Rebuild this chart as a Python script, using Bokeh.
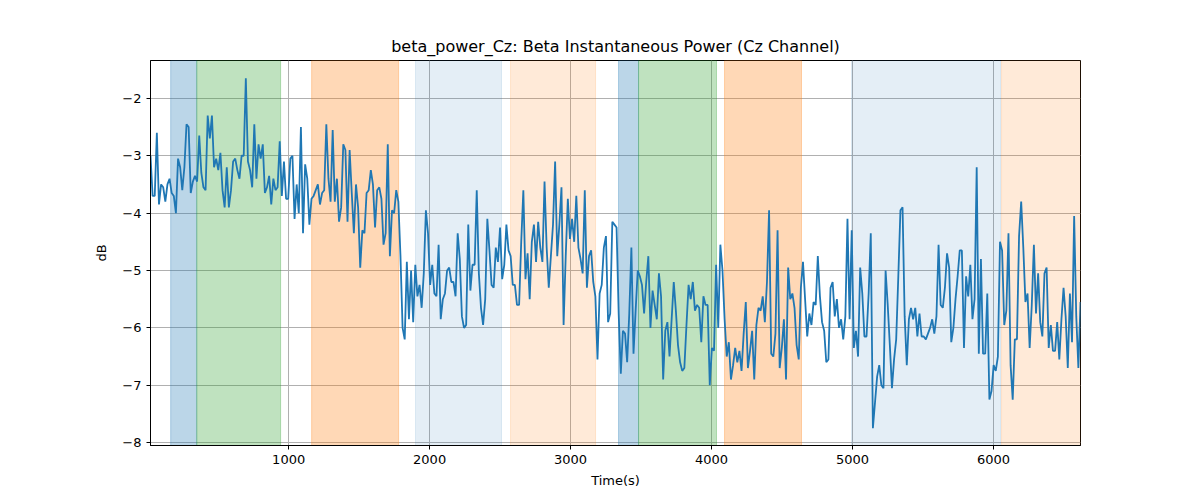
import numpy as np
from bokeh.plotting import figure
from bokeh.models import BoxAnnotation, FixedTicker, Range1d
from bokeh.embed import file_html
from bokeh.resources import INLINE

seg1 = [-3.0,-3.7,-3.7,-2.6,-3.85,-3.5,-3.55,-3.8,-3.5,-3.4,-3.65,-3.7,-4.0,-3.05,-3.2,-3.6,-3.2,-2.45,-2.5,-3.65,
        -3.45,-3.35,-3.45,-2.65,-3.3,-3.55,-3.6,-2.3,-2.7,-2.3,-3.2,-3.05,-3.25,-2.95,-3.6,-3.9,-3.2,-3.9,-3.6,-3.1,
        -3.05,-3.25,-3.4,-3.0,-3.0,-1.65,-3.1,-3.25,-3.55,-2.45,-3.4,-2.8,-3.05,-2.8,-3.65,-3.55,-3.35,-3.85,-3.4,-3.6,
        -3.55,-2.75,-3.7,-3.1,-3.75,-3.75,-3.05,-3.0,-4.1,-3.5,-4.0,-2.5,-4.35,-3.15,-3.4]
seg2 = [-4.2,-3.75,-3.7,-3.6,-3.5,-3.85,-3.65,-3.6,-2.45,-3.4,-3.8,-2.55,-3.8,-3.4,-4.15,-3.9,-2.8,-2.9,-4.15,-2.9,
        -3.65,-4.35,-3.5,-3.9,-4.95,-4.3,-4.35,-3.65,-3.6,-3.25,-3.5,-4.25,-3.6,-3.55,-3.75,-4.55,-4.35,-2.8,-4.75,-3.95,
        -4.0,-3.6,-3.8,-4.75,-6.0,-6.2,-4.85,-5.85,-5.0,-5.9,-4.9,-5.45,-5.25,-5.65,-5.05,-3.95,-4.35,-5.25,-4.9,-5.4,
        -5.45,-4.55,-5.85,-5.5,-5.4,-5.0,-4.95,-5.2,-5.2,-5.45,-4.35,-4.8]
seg3 = [-5.8,-6.0,-5.95,-4.2,-5.35,-4.9,-4.9,-3.6,-5.05,-5.65,-5.95,-5.5,-4.1,-4.65,-5.25,-5.3,-4.6,-4.85,-4.25,-5.15,
        -4.9,-4.2,-4.65,-4.75,-5.25,-5.25,-5.6,-5.6,-4.5,-3.6,-5.15,-4.7,-5.5,-4.5,-4.2,-4.85,-4.15,-4.6,-4.85,-3.45,
        -4.6,-5.3,-4.75,-4.2,-3.1,-4.75,-4.2,-3.55,-5.95,-4.75,-3.75,-4.45,-4.1,-4.5,-3.7,-4.6,-4.8,-5.05,-3.6,-5.3,
        -4.75,-4.65,-5.2,-5.45,-6.55,-5.4,-5.25,-4.6,-4.4,-5.9,-5.75,-4.15,-4.2]
seg4 = [-4.25,-5.75,-6.8,-6.05,-6.1,-6.6,-5.75,-4.6,-6.45,-5.7,-5.0,-5.1,-5.25,-5.75,-5.2,-4.75,-6.0,-5.35,-5.6,-5.85,
        -5.05,-5.45,-6.9,-6.05,-5.9,-6.5,-5.85,-5.2,-5.7,-6.3,-6.6,-6.75,-6.7,-5.95,-5.25,-5.5,-5.2,-5.7,-5.6,-5.65,
        -6.25,-5.45,-5.6,-5.6,-7.0,-6.35,-6.4,-4.9,-6.0,-4.55,-5.0,-5.85,-6.5,-6.25,-6.9,-6.65,-6.35,-6.6,-6.4,-6.75,
        -6.1,-5.55,-6.7,-6.4,-6.05,-6.9,-5.95,-5.65,-5.7,-5.45,-5.9,-5.2,-3.95]
seg5 = [-6.45,-6.5,-6.1,-4.3,-6.7,-6.35,-5.85,-6.9,-4.95,-5.5,-5.4,-5.65,-6.3,-6.55,-5.3,-4.85,-5.5,-6.15,-5.75,-5.95,
        -5.55,-5.6,-4.75,-5.45,-5.9,-6.05,-6.6,-6.55,-5.3,-5.2,-5.8,-5.5,-6.0,-5.85,-6.2,-5.8,-4.1,-5.85,-4.3,-6.35,
        -6.05,-6.5,-4.95,-5.4,-6.15,-6.15,-5.4,-4.35,-7.75,-7.3,-6.85,-6.65,-7.0,-7.05,-5.0,-5.6,-6.3,-7.05,-6.55,-6.2,
        -5.1,-3.95,-3.9,-5.8,-6.65,-5.85,-5.65,-5.85,-5.65,-6.15,-5.75,-6.15,-6.15]
seg6 = [-6.2,-6.1,-6.0,-5.85,-6.1,-5.8,-4.55,-5.6,-5.65,-5.3,-4.7,-4.95,-6.25,-6.0,-5.5,-5.1,-4.65,-4.65,-6.35,-5.1,
        -5.45,-4.9,-5.85,-5.5,-3.2,-6.45,-4.8,-6.45,-6.45,-5.4,-7.25,-7.1,-6.65,-6.75,-6.5,-4.5,-4.65,-5.95,-5.7,-4.35,
        -6.65,-7.25,-6.2,-6.2,-4.4,-3.8,-4.6,-5.55,-5.4,-6.35,-5.6,-4.55,-5.75,-5.05,-5.9,-6.15,-5.05,-4.95,-6.35,-5.95,
        -6.4,-6.4,-5.9,-6.55,-5.85,-5.3,-5.8,-6.7,-5.4,-6.25,-4.05,-5.8,-6.7,-5.55]
power_db = seg1 + seg2 + seg3 + seg4 + seg5 + seg6
t_start = 20.0
t_end = 6617.0
times = np.linspace(t_start, t_end, len(power_db))

span_left = [163, 348, 1163, 1900, 2574, 3340, 3482, 4092, 4993, 6057]
span_right = [348, 943, 1780, 2510, 3177, 3482, 4035, 4638, 6050, 6617]
span_color = ["#1f77b4", "#2ca02c", "#ff7f0e", "#1f77b4", "#ff7f0e",
              "#1f77b4", "#2ca02c", "#ff7f0e", "#1f77b4", "#ff7f0e"]
span_alpha = [0.3, 0.3, 0.3, 0.12, 0.16, 0.3, 0.3, 0.3, 0.12, 0.16]

x_ticks = [1000, 2000, 3000, 4000, 5000, 6000]
y_ticks = [-8, -7, -6, -5, -4, -3, -2]

p = figure(width=1184, height=490, output_backend="svg", toolbar_location=None,
           title="beta_power_Cz: Beta Instantaneous Power (Cz Channel)",
           x_range=Range1d(t_start, t_end), y_range=Range1d(-8.05, -1.34),
           min_border_left=150, min_border_right=104, min_border_top=60, min_border_bottom=45)
p.title.align = "center"
p.title.text_font = "DejaVu Sans"
p.title.text_font_size = "16px"
p.title.text_font_style = "normal"
p.title.text_color = "black"

for l, r, c, a in zip(span_left, span_right, span_color, span_alpha):
    p.add_layout(BoxAnnotation(left=l, right=r, fill_color=c, fill_alpha=a,
                               line_color=c, line_alpha=a, level="underlay"))

p.line(times, power_db, line_color="#1f77b4", line_width=1.8)

p.xaxis.ticker = FixedTicker(ticks=x_ticks)
p.yaxis.ticker = FixedTicker(ticks=y_ticks)
p.yaxis.major_label_overrides = {v: "\u2212" + str(abs(v)) for v in y_ticks}
p.xaxis.axis_label = "Time(s)"
p.yaxis.axis_label = "dB"
for ax in (p.xaxis, p.yaxis):
    ax.axis_label_text_font = "DejaVu Sans"
    ax.axis_label_text_font_size = "13px"
    ax.axis_label_text_font_style = "normal"
    ax.axis_label_text_color = "black"
    ax.major_label_text_font = "DejaVu Sans"
    ax.major_label_text_font_size = "13px"
    ax.major_label_text_color = "black"
    ax.axis_line_color = "black"
    ax.major_tick_line_color = "black"
    ax.minor_tick_line_color = None
    ax.major_tick_out = 4
    ax.major_tick_in = 0
p.xaxis.axis_label_standoff = 6
p.yaxis.axis_label_standoff = 10
p.grid.grid_line_color = "#b0b0b0"
p.grid.grid_line_width = 1
p.outline_line_color = "black"
p.outline_line_alpha = 1

open("out.html", "w").write(file_html(p, INLINE))
